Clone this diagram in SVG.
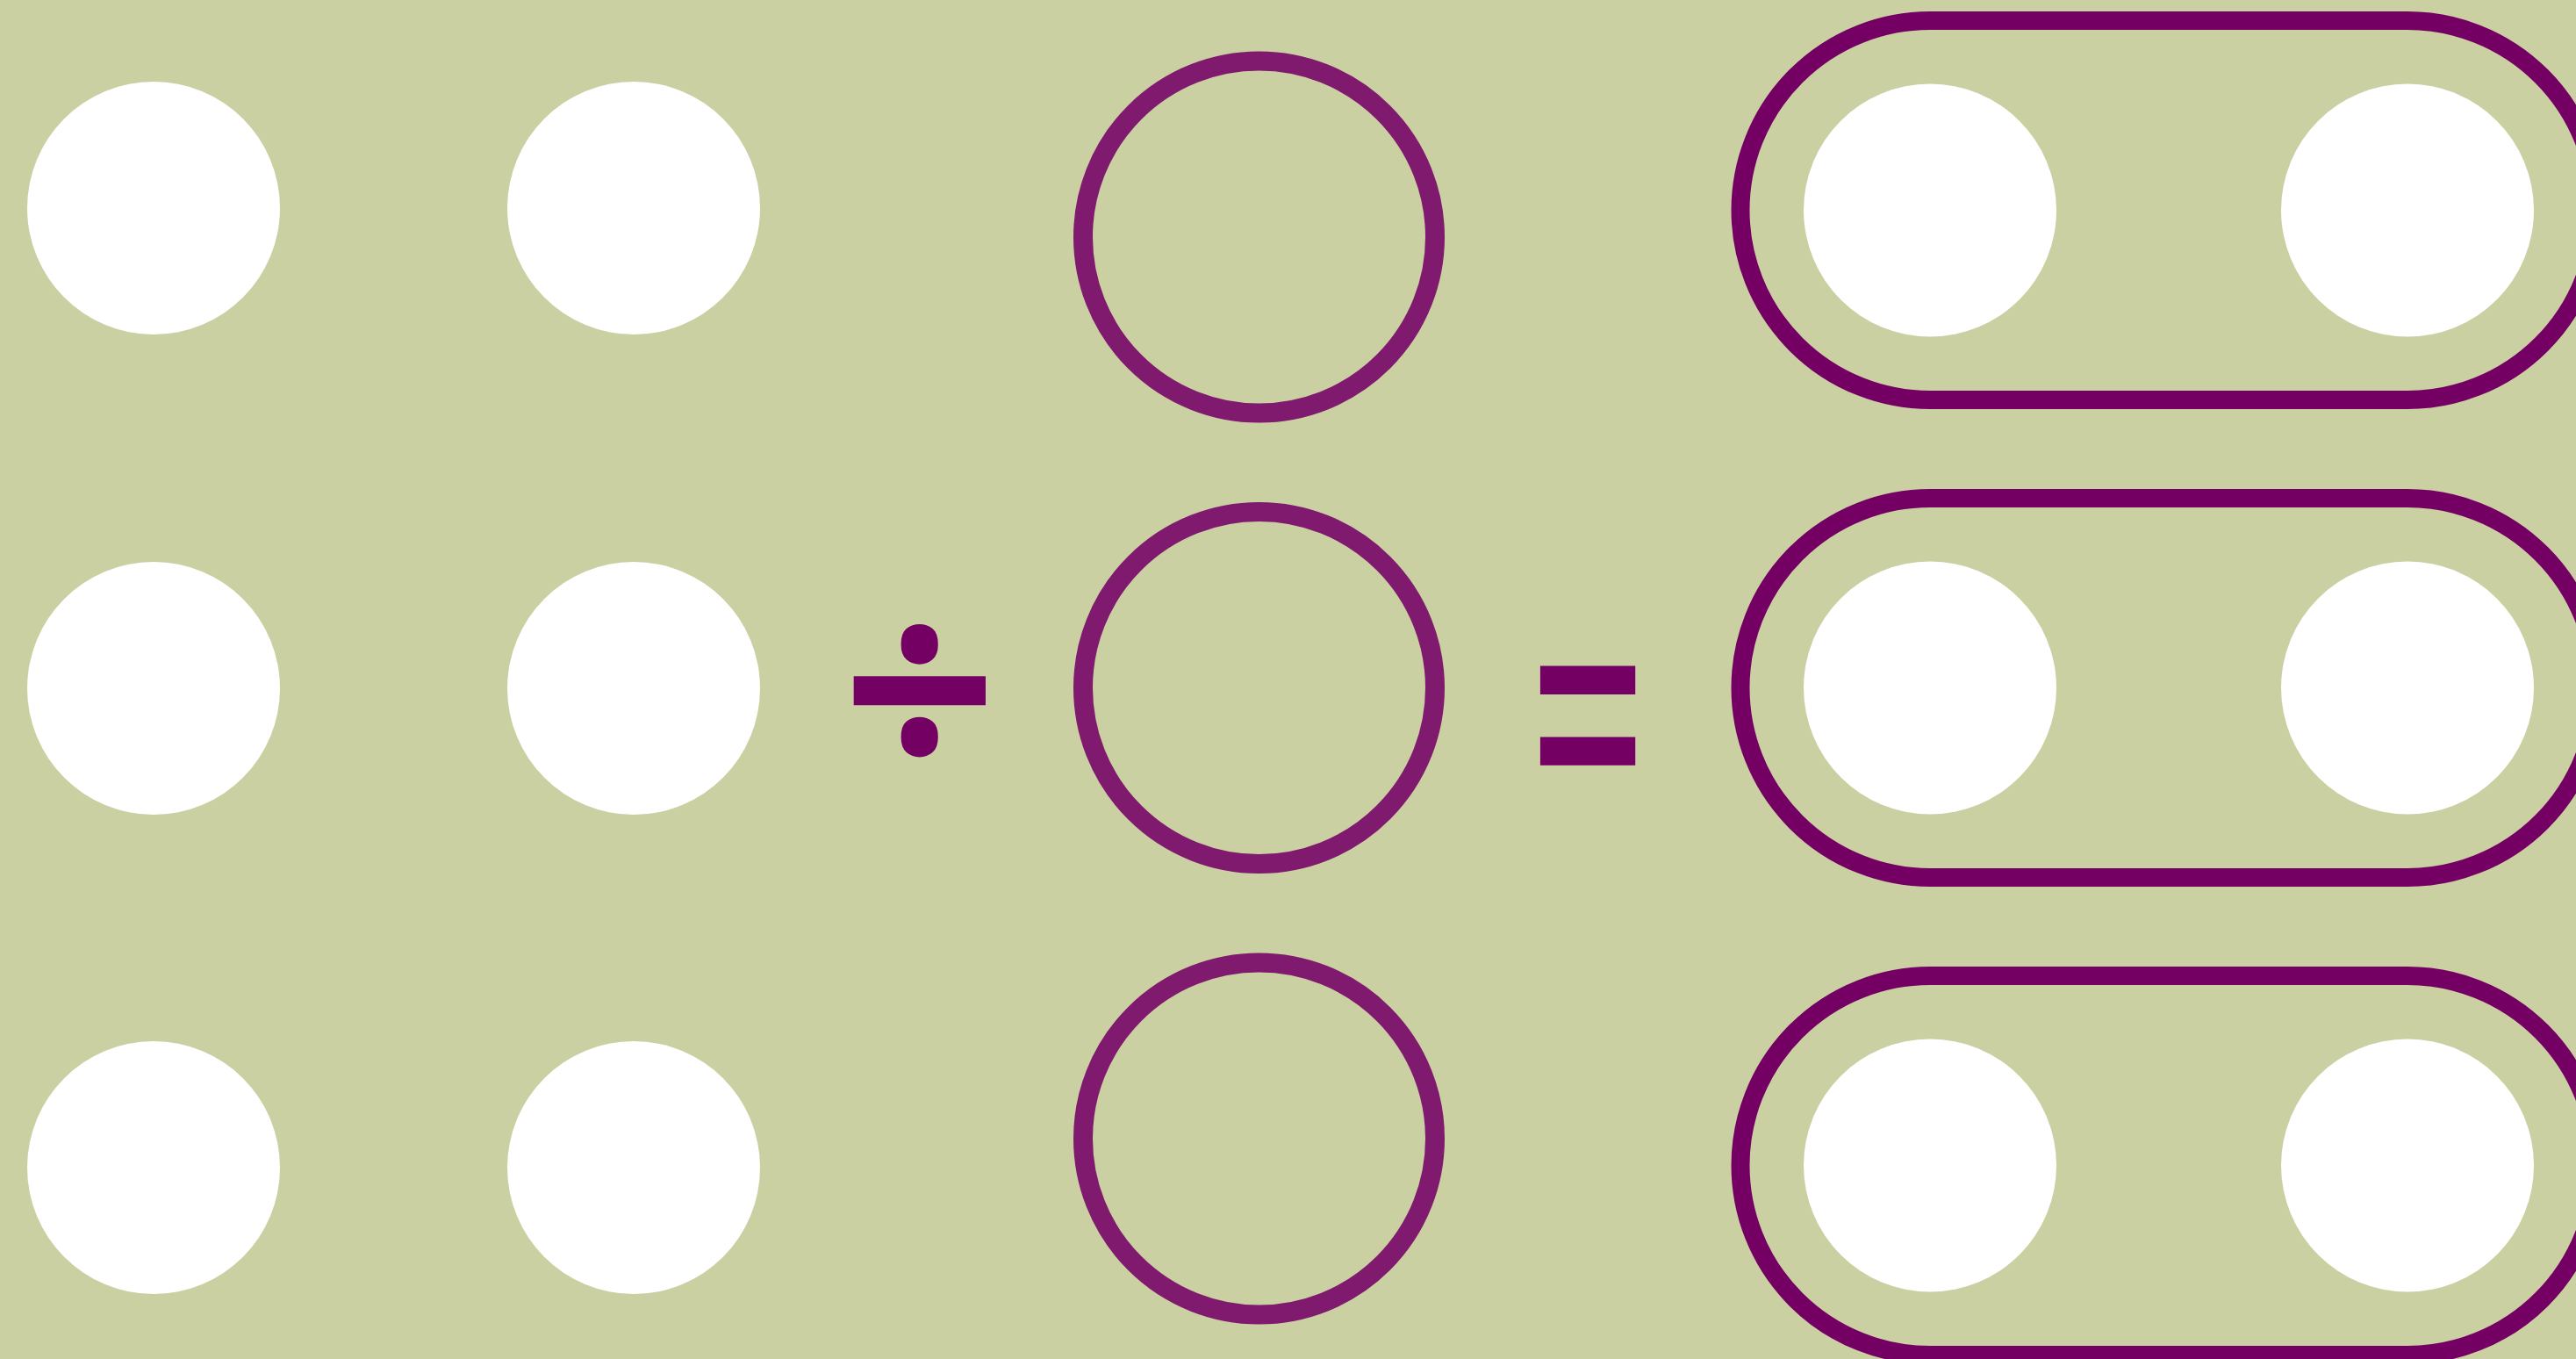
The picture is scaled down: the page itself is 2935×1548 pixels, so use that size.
<svg xmlns="http://www.w3.org/2000/svg" width="2935" height="1548" viewBox="0 0 2935 1548">
  <style>
    .dot { fill: #ffffff; }
    .ring { fill: none; stroke: #7f1a6e; stroke-width: 22; }
    .pill { fill: none; stroke: #750064; stroke-width: 21; }
    .op { fill: #750064; font-weight: bold; text-anchor: middle; dominant-baseline: central; }
  </style>
  <rect id="background" x="0" y="0" width="2935" height="1548" fill="#cbd0a3"/>

  <g id="dividend">
    <g id="dot-a1"><circle class="dot" cx="175" cy="237" r="144"/></g>
    <g id="dot-a2"><circle class="dot" cx="722" cy="237" r="144"/></g>
    <g id="dot-b1"><circle class="dot" cx="175" cy="784" r="144"/></g>
    <g id="dot-b2"><circle class="dot" cx="722" cy="784" r="144"/></g>
    <g id="dot-c1"><circle class="dot" cx="175" cy="1330" r="144"/></g>
    <g id="dot-c2"><circle class="dot" cx="722" cy="1330" r="144"/></g>
  </g>

  <g id="divide-sign">
    <text class="op" x="1048" y="776" font-size="310" font-family="'Open Sans', 'Noto Sans', sans-serif">÷</text>
  </g>

  <g id="divisor">
    <g id="ring-1"><circle class="ring" cx="1434.5" cy="270" r="200.5"/></g>
    <g id="ring-2"><circle class="ring" cx="1434.5" cy="783.5" r="200.5"/></g>
    <g id="ring-3"><circle class="ring" cx="1434.5" cy="1297" r="200.5"/></g>
  </g>

  <g id="equals-sign">
    <text class="op" transform="translate(1809 810) scale(0.72 1)" x="0" y="0" font-size="300" font-family="'Liberation Sans', Arial, sans-serif">=</text>
  </g>

  <g id="quotient">
    <g id="group-1">
      <rect class="pill" x="1983" y="23.5" width="976" height="432" rx="216" ry="216"/>
      <circle class="dot" cx="2199" cy="239.5" r="144"/>
      <circle class="dot" cx="2743" cy="239.5" r="144"/>
    </g>
    <g id="group-2">
      <rect class="pill" x="1983" y="567.5" width="976" height="432" rx="216" ry="216"/>
      <circle class="dot" cx="2199" cy="783.5" r="144"/>
      <circle class="dot" cx="2743" cy="783.5" r="144"/>
    </g>
    <g id="group-3">
      <rect class="pill" x="1983" y="1111.5" width="976" height="432" rx="216" ry="216"/>
      <circle class="dot" cx="2199" cy="1327.5" r="144"/>
      <circle class="dot" cx="2743" cy="1327.5" r="144"/>
    </g>
  </g>

  <g id="connectors"/>
</svg>
